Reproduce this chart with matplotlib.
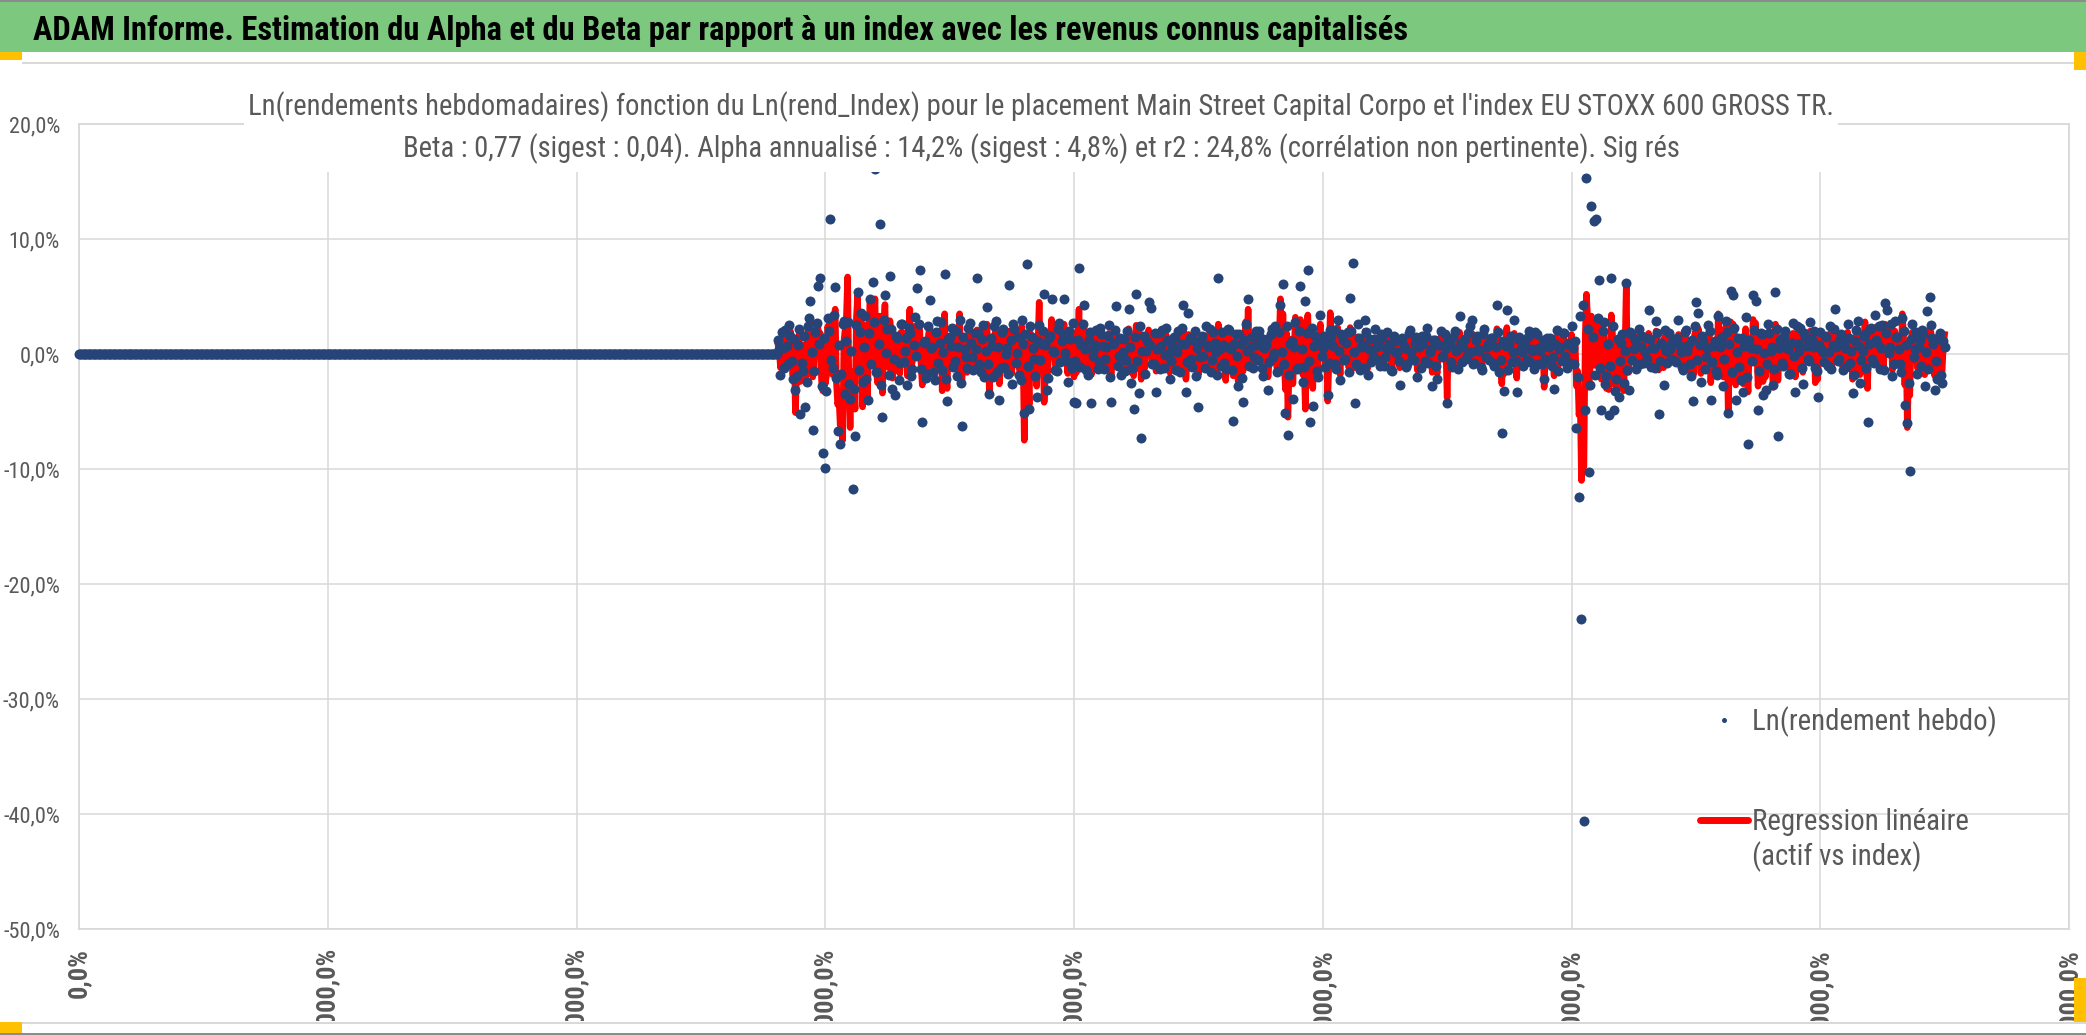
import numpy as np
import matplotlib
matplotlib.use("Agg")
import matplotlib.pyplot as plt
from matplotlib import font_manager
from matplotlib.patches import Rectangle
from matplotlib.lines import Line2D
from matplotlib.ticker import FuncFormatter

W, H = 2086, 1035


# narrow font close to Calibri, whatever is installed
def pick_font():
    fl = font_manager.fontManager.ttflist
    names = {f.name for f in fl}
    for n in ["Liberation Sans Narrow", "Noto Sans Condensed", "Roboto Condensed",
              "Open Sans Condensed", "DejaVu Sans Condensed"]:
        if n in names:
            return n, "normal"
    for st in ["condensed", "semi-condensed"]:
        for n in ["Noto Sans", "Open Sans", "Roboto", "DejaVu Sans", "Liberation Sans"]:
            if any(f.name == n and f.stretch == st for f in fl):
                return n, st
    return "DejaVu Sans", "normal"


FONT, STRETCH = pick_font()
plt.rcParams["font.family"] = [FONT, "DejaVu Sans"]
plt.rcParams["font.stretch"] = STRETCH

# ---- data (weekly log returns, in %) ----
zero_weeks = 562          # weeks 0..561, before the listing: value 0
first_week = 562
step_weeks = 1

rend_hebdo = [
    1.2, 0.4, -1.8, 1.9, 0.5, -1.2, 2.1, 0.7, -0.9, 2.5, 1.6, -0.6, -2.2, 1.3, -3.1, -1.9, 0.8, 2.2, -5.2, -0.8,
    -1.5, 1.6, -4.6, -2.4, 2.4, 3.1, 4.6, 0.2, -6.6, -1.5, 1.9, 2.7, 5.9, 0.9, 6.6, -2.8, -8.6, 1.4, -9.9, -3.2,
    3.1, 2.0, 11.7, -0.5, -1.2, 3.4, 5.8, -2.1, -6.7, 0.8, -7.8, -1.7, 2.6, 2.9, -3.5, 1.1, 2.8, -2.6, -3.9, 0.3,
    -11.7, -3.0, -7.1, 2.5, 5.4, -1.4, 1.9, 3.6, -2.4, 0.6, 3.3, -2.2, -4.0, 1.8, 4.8, -0.9, 6.3, 2.8, 16.1, -1.6,
    -1.6, 0.9, 11.3, -2.7, -5.5, 3.0, 5.1, 0.1, 2.2, -1.8, 6.8, 2.2, -3.0, -0.4, -3.6, 1.6, 1.4, -2.3, -0.8, 2.6,
    2.6, -0.7, 0.3, 1.4, -2.7, 2.3, 1.8, -1.9, -1.3, 0.8, 3.2, -0.2, 5.7, 2.6, 7.3, -1.3, -5.9, 1.0, 1.1, -2.1,
    -1.7, 2.4, 4.7, 0.5, 0.6, -1.6, -2.3, 1.9, 2.9, -0.8, 1.0, 2.8, -1.4, 0.2, 7.0, -2.2, -4.1, 1.3, 1.5, 0.7,
    2.3, -1.1, -0.6, 2.0, -1.9, 0.6, 3.0, -2.5, -6.3, 1.5, 0.4, -0.3, -1.2, 2.3, 2.7, 1.0, -0.3, -1.4, 1.8, 0.4,
    6.6, 1.8, -0.9, -1.6, 1.3, 2.5, -2.0, 0.3, 4.1, -0.9, -3.5, 1.4, 0.7, -2.0, 2.4, 2.9, -1.6, 0.6, -4.0, -1.2,
    1.9, 2.2, -1.1, 0.0, 0.5, -1.7, 6.0, 1.2, -2.6, 2.6, 2.2, -0.8, 0.1, 1.5, -1.8, -2.3, 3.0, 0.9, -5.1, 1.7,
    7.8, -1.0, -4.8, 2.4, 1.5, 0.5, -0.4, -1.9, -3.7, 1.1, 2.5, -0.5, 0.9, 2.0, 5.2, 0.8, -3.1, -2.1, 1.4, 1.6,
    4.8, 0.3, 0.2, -1.4, -1.5, 2.2, 2.7, -0.7, 1.1, 1.7, 4.8, 0.1, -0.6, -2.4, 2.0, 1.3, -1.2, 2.7, -4.2, -0.6,
    -4.3, 1.2, 7.5, -1.1, 0.8, 2.6, 4.3, 0.4, -1.4, -1.8, 1.2, 1.9, -4.3, -0.2, 0.4, 0.8, 2.1, -1.3, -0.7, 2.3,
    1.7, 0.7, -1.3, -0.4, 0.6, 1.6, 2.5, -2.0, -4.2, 0.9, 1.0, 2.1, 4.2, -1.0, -0.2, 1.4, -1.8, 0.2, 1.3, -1.5,
    -0.5, 2.0, 3.9, 0.6, -2.5, -1.2, -4.8, 1.5, 5.2, -0.6, -3.4, 2.4, -7.3, 0.3, 1.6, -1.7, 0.3, 1.1, 4.5, 0.8,
    4.0, -0.9, -0.9, 1.8, -3.3, 0.4, 1.8, -1.3, 0.7, 2.1, -1.2, -0.1, 2.3, 1.2, 0.1, -2.2, -0.6, 0.7, 1.5, 1.5,
    -1.4, 0.2, 2.0, -1.6, 0.9, 2.3, 4.3, 0.9, -3.3, -0.7, 3.6, 1.4, -0.4, -1.1, 1.2, 2.0, -1.9, 0.5, -4.6, -0.3,
    1.1, 1.6, -0.2, -1.2, 2.4, 0.8, 0.6, 2.2, -1.6, -0.5, 1.9, 1.0, 0.2, -1.8, 6.6, 0.4, -1.0, 1.9, 0.8, -0.8,
    -1.3, 0.6, 2.2, 2.1, 0.4, -1.4, -5.8, 0.9, 1.7, -0.2, -2.8, 1.7, 0.9, -2.1, -4.2, 1.2, 2.6, 0.3, 4.8, -1.0,
    0.6, 1.5, -1.2, -0.3, 2.0, 0.8, -0.5, 2.0, 1.4, -1.2, -1.9, 0.5, 0.8, 1.3, -3.1, -0.7, 1.7, 2.2, -0.3, 0.1,
    2.4, -1.6, -1.5, 1.9, 4.3, 0.2, 6.1, -0.9, -5.1, 2.4, -7.0, -1.8, 0.9, 1.1, -3.9, 0.6, 2.8, -1.3, -1.2, 2.0,
    5.9, 0.4, -2.4, -1.1, 4.6, 1.8, 7.3, -0.6, -5.9, 2.3, -4.5, 0.7, 1.6, -1.5, -2.0, 1.2, 3.4, -0.2, 0.5, 1.6,
    -1.1, 0.9, -3.6, -0.8, 2.1, 1.5, 0.7, 2.1, -0.9, -1.3, 3.0, 0.3, -2.3, 1.7, 1.2, -0.5, -0.4, 1.0, 1.9, -1.6,
    4.9, 2.0, 7.9, 0.2, -4.3, -0.9, 2.6, 1.4, -1.4, 0.6, 0.8, -1.2, 3.0, 1.9, -1.8, 0.4, 1.3, -0.7, -0.2, 1.3,
    2.2, -0.4, 0.6, 1.1, -1.0, 1.7, 1.5, -1.0, -0.3, 0.5, 1.9, 0.9, 0.4, -1.4, -1.5, 1.6, 1.1, 0.1, 0.2, -0.6,
    -2.7, 1.3, 1.4, 0.7, 0.5, -1.1, -0.9, 1.8, 2.1, 0.2, -0.4, -0.5, 1.0, 1.5, -2.0, 0.6, 0.7, -1.2, 1.6, 0.9,
    -0.6, 1.6, 2.3, -0.8, 0.2, 0.4, -2.8, 1.2, 1.2, -1.0, -2.2, 0.8, 0.8, 2.0, -0.3, -0.2, 1.7, 0.5, -4.3, 1.1,
    0.9, -0.7, -1.1, 1.5, 2.0, 0.3, 0.4, -1.3, 3.3, 1.0, -0.7, 0.6, 1.3, -0.4, -0.2, 1.8, 2.4, 0.2, 3.0, -0.9,
    -0.8, 1.2, 1.6, 0.4, 0.3, -1.1, -1.4, 1.7, 2.2, -0.3, 0.6, 0.9, -0.5, 1.4, 1.4, -0.8, -1.0, 0.6, 4.3, 1.9,
    -1.6, -0.5, -6.9, 1.1, -3.2, 0.7, 3.8, -1.4, 0.9, 1.6, -0.7, 0.2, 3.0, -0.6, -3.3, 1.3, 1.5, 0.5, 0.2, -1.0,
    1.2, 0.8, -0.5, 1.5, 2.0, -0.7, 0.3, 0.4, -1.3, 1.9, 1.7, -0.9, 0.5, 0.3, -0.9, 1.2, -2.2, -0.4, 1.4, 0.7,
    0.6, 1.4, -1.0, -0.3, -3.0, 0.9, 2.1, -1.5, 0.4, 0.6, -0.6, 1.8, 1.8, -0.2, -1.2, 1.0, 0.8, -0.8, 2.4, 0.5,
    -0.9, 1.1, -6.4, -2.0, -12.4, 3.3, -23.0, 4.3, -40.6, -4.9, 15.3, 2.2, -10.3, -2.7, 12.9, 1.5, 11.6, -1.8, 11.7, 3.1,
    6.4, -1.2, -4.9, 2.0, 2.8, -2.6, -1.9, 0.9, -5.3, -1.0, 6.6, 2.4, -4.9, -3.2, -2.2, 1.3, -3.7, -0.6, 1.0, 1.7,
    -2.5, 0.3, 6.2, -1.4, -3.1, 1.9, 1.7, -0.5, 0.4, 1.2, -1.3, 0.8, 2.2, -0.9, 0.6, 1.6, -0.8, 0.2, 1.4, -0.4,
    3.8, 1.3, -1.1, 0.5, 0.5, -1.2, 2.9, 1.8, -5.2, -0.6, 1.0, 0.9, -2.7, 2.1, 0.3, -0.8, 1.8, 0.4, -0.4, 1.0,
    1.3, -0.6, -0.7, 1.4, 3.0, 0.7, 0.2, -1.1, -1.4, 1.9, 2.1, 0.3, 0.8, -0.9, -1.9, 1.2, -4.1, 2.4, 4.5, -0.5,
    3.6, 0.8, -2.4, 1.6, 1.1, -1.3, -0.3, 0.5, 2.5, 2.0, -4.0, -0.7, 0.7, 1.1, -1.5, -1.8, 3.3, 0.6, 1.0, 1.5,
    -2.8, -0.4, 2.9, 1.9, -5.1, 0.9, 5.5, -1.6, 5.1, 2.3, -4.0, 0.2, 1.4, -1.1, -2.3, 1.4, -3.3, 0.7, 3.2, -2.0,
    -7.8, 1.2, 0.5, -0.6, 5.1, 2.1, 4.6, 0.4, -4.9, -1.5, 1.8, 1.7, -3.6, 0.1, -3.1, -0.9, 2.6, 1.8, 0.3, 0.6,
    -2.7, -1.3, 5.4, 2.2, -7.1, 0.5, 1.2, -0.8, -1.0, 1.6, 2.0, 0.9, 0.4, -1.7, -1.7, 1.0, 2.7, -0.2, -3.3, 2.4,
    0.9, 0.3, 2.3, -1.2, -2.6, 1.8, 1.5, 0.7, -0.4, -0.6, 2.8, 1.3, 0.6, 2.0, -1.2, -1.5, -3.7, 0.8, 1.9, 0.4,
    0.2, -0.7, 1.6, 1.5, -1.0, 0.2, 2.4, -1.3, 0.8, 2.2, 3.9, 0.6, -0.6, -0.4, 1.3, 1.7, -1.4, 0.9, 0.5, -1.1,
    2.6, 1.4, -0.8, 0.3, -3.4, -1.8, 1.1, 2.1, 2.9, 0.7, -2.5, -0.5, 0.3, 1.6, 1.7, -1.2, -5.9, 0.9, 2.2, 2.3,
    -0.4, -0.8, 3.4, 1.2, 1.0, 2.4, -1.3, 0.5, 2.5, -1.4, 4.4, 1.8, 3.8, 0.1, 0.6, 2.6, -1.9, -0.9, 2.9, 1.5,
    1.5, 0.4, -0.9, -1.6, 3.1, 2.0, -4.4, 0.8, -6.0, -2.5, -10.2, 1.3, 2.6, -0.3, 0.4, 1.9, -1.7, 0.6, 1.2, -1.0,
    2.1, 1.7, -2.8, 0.2, 3.7, -1.3, 5.0, 2.5, 1.4, 0.9, -3.1, -0.6, -2.2, 1.4, 1.8, -1.8, -2.5, 1.1, 0.6,
]

regression = [
    0.8, 0.3, -1.2, 1.1, 1.5, -0.7, 0.3, 0.9, -0.8, 1.4, 2.0, -0.4, -1.9, 0.6, -5.1, -1.8, 1.1, 1.7, -2.4, -0.9,
    -1.0, 0.8, -2.3, -1.6, 2.2, 2.4, 2.8, 0.5, -2.0, -1.1, 1.4, 2.0, 2.5, 1.2, 1.8, -2.3, -3.2, 1.0, -2.6, -1.9,
    2.4, 1.5, 3.2, -0.6, -1.8, 2.7, 3.9, -2.5, -4.4, -3.8, -6.2, -4.6, -7.5, 1.1, 2.2, 3.3, 6.7, -2.2, -6.4, -1.5,
    -3.5, -2.6, -4.8, 3.1, 5.1, -1.2, 0.9, 2.8, -4.6, -1.4, 2.5, -1.9, -3.8, 1.6, 4.5, -0.8, 3.6, 2.6, 4.8, -1.3,
    -2.5, 0.7, 3.3, -1.9, -3.4, 2.5, 4.3, 0.4, 1.2, -1.2, 2.9, 1.8, -2.1, -0.6, -1.4, 1.0, 0.6, -1.5, -1.7, 1.9,
    1.9, -0.3, -0.4, 1.2, -1.9, 1.6, 3.9, -1.1, -0.7, 0.5, 2.4, 0.1, 1.8, 1.9, 2.1, -0.9, -2.7, 0.6, 0.5, -1.4,
    -1.2, 1.7, 2.3, 0.2, 0.4, -1.0, -1.8, 1.3, 1.7, -0.6, 0.8, 2.1, -3.2, -0.1, 3.5, -1.7, -3.0, 0.8, 1.2, 0.5,
    1.6, -0.8, -0.9, 1.5, -1.3, 0.3, 3.5, -1.9, -2.2, 1.1, 0.2, -0.4, -1.6, 1.6, 2.2, 0.6, -0.5, -1.0, 1.3, 0.2,
    2.1, 1.2, -0.7, -1.3, 0.9, 1.9, -1.5, 0.1, 2.6, -0.7, -3.3, 1.0, 0.5, -1.4, 1.6, 2.0, -1.1, 0.4, -2.6, -0.9,
    1.4, 1.6, -0.6, -0.2, 0.3, -1.3, 2.0, 0.8, -1.7, 1.9, 1.5, -0.6, 0.2, 1.1, -1.3, -1.8, 2.4, 0.5, -7.5, -2.1,
    1.0, -0.7, -4.4, 1.8, 1.2, 0.3, 0.3, -1.4, -2.8, 0.8, 4.5, -0.3, 1.4, 1.5, -4.2, -1.6, -2.1, -1.5, 1.0, 1.2,
    3.0, 0.2, 0.6, -1.0, -1.1, 1.6, 1.9, -0.5, 0.7, 1.3, 2.6, 0.0, -0.4, -1.7, 1.5, 0.9, -0.8, 1.9, -2.0, -0.4,
    -1.6, 0.9, 3.9, -0.8, 0.5, 1.9, 2.4, 0.2, -1.0, -1.3, 0.9, 1.4, -1.8, -0.1, 0.3, 0.5, 1.5, -0.9, -0.5, 1.7,
    1.2, 0.5, -1.0, -0.3, 0.4, 1.2, 1.8, -1.5, -2.1, 0.6, 0.6, 1.6, 2.0, -0.7, -0.3, 1.0, -1.4, 0.1, 0.8, -1.1,
    -0.4, 1.5, 2.2, 0.4, -1.6, -0.9, -1.9, 1.1, 2.5, -0.4, -1.3, 1.8, -2.2, 0.2, 1.1, -1.2, 0.2, 0.8, 2.1, 0.6,
    1.8, -0.7, -0.6, 1.3, -1.5, 0.3, 1.2, -1.0, 0.6, 1.5, -0.9, 0.0, 1.7, 0.9, 0.3, -1.6, -0.5, 0.5, 1.0, 1.1,
    -1.0, 0.1, 1.5, -1.2, 0.6, 1.7, 2.3, 0.7, -2.2, -0.5, 1.7, 1.0, -0.3, -0.8, 0.9, 1.5, -1.3, 0.4, -1.8, -0.2,
    0.7, 1.2, -0.2, -0.9, 1.6, 0.6, 0.4, 1.6, -1.2, -0.4, 1.3, 0.7, 0.1, -1.3, 2.6, 0.3, -0.7, 1.4, 0.5, -0.6,
    -2.3, 0.4, 1.6, 1.5, 0.2, -1.0, -1.9, 0.7, 1.2, -0.1, -2.4, 1.2, 0.7, -1.5, -1.5, 0.9, 2.8, 0.2, 3.9, -0.7,
    0.9, 1.1, -0.8, -0.2, 1.4, 0.6, -0.4, 1.5, 1.0, -0.9, -1.4, 0.4, 0.6, 1.0, -2.0, -0.5, 1.2, 1.6, -0.2, 0.1,
    1.8, -1.2, -1.2, 1.4, 4.8, 0.1, 3.5, -0.7, -3.1, 1.8, -5.5, -1.3, 1.3, 0.8, -2.6, 0.4, 3.2, -1.0, -1.0, 1.5,
    3.0, 0.3, -1.8, -0.8, -4.8, 1.3, 3.4, -0.4, -2.4, 1.7, -3.0, 0.5, 1.2, -1.1, -1.5, 0.9, 2.6, -0.1, 0.4, 1.2,
    -0.8, 0.7, -4.1, -0.6, 3.6, 1.1, 0.5, 1.6, -0.7, -1.0, 2.3, 0.2, -1.8, 1.3, 0.9, -0.4, -0.3, 0.7, 1.4, -1.2,
    2.3, 1.5, 1.8, 0.1, -1.2, -0.7, 1.5, 1.0, -1.0, 0.4, 0.6, -0.9, 2.0, 1.4, -1.3, 0.3, 0.9, -0.5, -0.2, 1.0,
    1.4, -0.3, 0.5, 0.8, -0.8, 1.2, 1.0, -0.7, -0.2, 0.4, 1.3, 0.7, 0.3, -1.0, -1.1, 1.2, 0.8, 0.1, 0.2, -0.4,
    -1.2, 1.0, 1.0, 0.5, 0.4, -0.8, -0.7, 1.3, 1.5, 0.1, -0.3, -0.4, 0.7, 1.1, -1.4, 0.4, 0.5, -0.9, 1.1, 0.7,
    -0.5, 1.2, 1.6, -0.6, 0.1, 0.3, -1.6, 0.9, 0.9, -0.7, -1.7, 0.6, 0.6, 1.5, -0.2, -0.1, 1.1, 0.4, -3.8, 0.8,
    0.6, -0.5, -0.8, 1.1, 1.5, 0.2, 0.3, -1.0, 1.9, 0.7, -0.5, 0.4, 0.9, -0.3, -0.1, 1.3, 1.7, 0.1, 1.8, -0.7,
    -0.6, 0.9, 1.2, 0.3, 0.2, -0.8, -1.0, 1.3, 1.6, -0.2, 0.4, 0.7, -0.4, 1.0, 1.0, -0.6, -0.7, 0.4, 2.2, 1.4,
    -1.1, -0.4, -2.6, 0.8, -1.7, 0.5, 2.3, -1.0, 0.6, 1.2, -0.5, 0.1, 1.8, -0.4, -2.1, 1.0, 1.1, 0.4, 0.2, -0.7,
    0.9, 0.6, -0.4, 1.1, 1.4, -0.5, 0.3, 0.3, -1.0, 1.4, 1.2, -0.7, 0.4, 0.2, -0.7, 0.9, -2.9, -0.3, 1.0, 0.5,
    0.4, 1.0, -0.8, -0.2, -1.9, 0.7, 1.5, -1.1, 0.3, 0.4, -0.5, 1.3, 1.3, -0.1, -0.9, 0.7, 0.6, -0.6, 1.7, 0.4,
    0.5, 0.8, -2.8, -1.5, -5.3, -4.2, -11.0, -9.5, -9.8, 1.4, 5.2, 3.1, -2.9, -1.2, 3.3, 2.4, 1.8, -1.0, 2.7, 2.1,
    2.5, -0.9, -2.2, 1.4, 1.9, -1.8, -3.0, 0.6, -3.1, -0.7, 3.4, 1.7, -2.6, -2.2, -1.4, 0.9, -3.0, -0.4, 0.8, 1.2,
    -3.2, 0.2, 5.9, -1.0, -1.6, 1.4, 1.2, -0.4, 0.3, 0.9, -1.0, 0.6, 1.6, -0.7, 0.4, 1.2, -0.6, 0.1, 1.0, -0.3,
    1.8, 1.0, -0.8, 0.4, 0.4, -0.9, 2.0, 1.3, -1.4, -0.4, 0.8, 0.7, -1.2, 1.5, 0.2, -0.6, 1.3, 0.3, -0.3, 0.7,
    0.9, -0.4, -0.5, 1.0, 1.7, 0.5, 0.1, -0.8, -1.0, 1.4, 1.4, 0.2, 0.6, -0.7, -1.6, 0.9, -1.8, 1.7, 2.0, -0.4,
    2.2, 0.6, -1.7, 1.2, 0.8, -1.0, -0.2, 0.4, 1.8, 1.5, -2.5, -0.5, 0.5, 0.8, -1.1, -1.3, 3.5, 0.4, 0.8, 1.1,
    -2.0, -0.3, 2.4, 1.4, -5.1, 0.7, 2.8, -1.2, 2.6, 1.7, -2.7, 0.1, 0.9, -0.8, -1.8, 1.0, -2.6, 0.5, 2.2, -1.5,
    -3.3, 0.9, 0.4, -0.4, 3.0, 1.6, 2.7, 0.3, -2.8, -1.1, 1.5, 1.3, -2.4, 0.1, -2.0, -0.7, 1.9, 1.3, 0.2, 0.4,
    -2.9, -1.0, 2.6, 1.6, -2.3, 0.4, 0.9, -0.6, -0.8, 1.2, 1.5, 0.7, 0.3, -1.2, -1.3, 0.8, 1.8, -0.1, -2.0, 1.8,
    0.7, 0.2, 1.7, -0.9, -1.6, 1.3, 1.1, 0.5, -0.3, -0.4, 2.0, 1.0, 0.4, 1.5, -2.5, -1.1, -2.2, 0.6, 1.4, 0.3,
    0.2, -0.5, 1.2, 1.1, -0.8, 0.1, 1.8, -1.0, 0.6, 1.6, 2.0, 0.4, -0.5, -0.3, 1.0, 1.3, -1.1, 0.7, 0.4, -0.8,
    1.9, 1.0, -0.6, 0.2, -2.2, -1.3, 0.9, 1.6, 2.1, 0.5, -1.8, -0.4, 0.2, 1.2, 2.8, -0.9, -3.0, 0.7, 1.6, 1.7,
    -0.3, -0.6, 2.3, 0.9, 0.8, 1.8, -0.9, 0.4, 1.8, -1.0, 2.6, 1.3, 2.2, 0.1, 0.5, 1.9, -1.4, -0.7, 2.0, 1.1,
    1.1, 0.3, -0.6, -1.2, 3.5, 1.5, -2.7, 0.6, -6.4, -1.9, -3.6, 1.0, 1.9, -0.2, 0.3, 1.4, -1.2, 0.4, 0.9, -0.8,
    1.5, 1.3, -1.8, 0.1, 2.0, -1.0, 2.2, 1.9, 0.8, 0.7, -1.9, -0.5, -1.4, 1.0, 1.2, -1.3, -1.5, 0.8, 1.7,
]

x_ticks = [0, 200, 400, 600, 800, 1000, 1200, 1400, 1600]
y_ticks = [-50, -40, -30, -20, -10, 0, 10, 20]

main_title = ("ADAM Informe. Estimation du Alpha et du Beta par rapport à un index "
              "avec les revenus connus capitalisés")
chart_title_1 = ("Ln(rendements hebdomadaires) fonction du Ln(rend_Index) pour le placement "
                 "Main Street Capital Corpo et l'index EU STOXX 600 GROSS TR.")
chart_title_2 = ("Beta : 0,77 (sigest : 0,04). Alpha annualisé : 14,2% (sigest : 4,8%) "
                 "et r2 : 24,8% (corrélation non pertinente). Sig rés")
label_rend = "Ln(rendement hebdo)"
label_reg = "Regression linéaire"
label_reg_2 = "(actif vs index)"

BLUE = "#264478"
RED = "#FF0000"
GREEN = "#7DC87F"
GRAY_TXT = "#595959"
GRID = "#D9D9D9"
ORANGE = "#FFC000"

weeks_zero = np.arange(zero_weeks) * step_weeks
weeks = first_week + step_weeks * np.arange(len(rend_hebdo))


def fx(x):
    return x / W


def fy(y):
    return 1 - y / H


fig = plt.figure(figsize=(W / 100, H / 100), dpi=100)
renderer = fig.canvas.get_renderer()


def fit(txt, target_px):
    w = txt.get_window_extent(renderer=renderer).width
    txt.set_fontsize(txt.get_fontsize() * target_px / w)
    return txt.get_fontsize()


def size_for(s, target_px, **kw):
    t = fig.text(0, 0, s, fontsize=20, **kw)
    size = fit(t, target_px)
    t.remove()
    return size


# header band and frame decorations
fig.add_artist(Rectangle((0, fy(52)), 1, 52 / H, transform=fig.transFigure,
                         facecolor=GREEN, edgecolor="none", zorder=1))
fig.add_artist(Rectangle((0, fy(2)), 1, 2 / H, transform=fig.transFigure,
                         facecolor="#8C8C8C", edgecolor="none", zorder=1))
fig.add_artist(Rectangle((fx(22), fy(64)), 1, 2 / H, transform=fig.transFigure,
                         facecolor=GRID, edgecolor="none", zorder=1))
# white box behind the chart title (hides top of grid)
fig.add_artist(Rectangle((fx(244), fy(172)), (1838 - 244) / W, (172 - 66) / H,
                         transform=fig.transFigure, facecolor="white",
                         edgecolor="none", zorder=2))
# bottom strip that cuts the long x labels
fig.add_artist(Rectangle((0, 0), 1, (H - 1021) / H, transform=fig.transFigure,
                         facecolor="white", edgecolor="none", zorder=5))
fig.add_artist(Rectangle((fx(22), fy(1024)), 1, 2 / H, transform=fig.transFigure,
                         facecolor=GRID, edgecolor="none", zorder=6))
fig.add_artist(Rectangle((0, 0), 1, 2 / H, transform=fig.transFigure,
                         facecolor="#8C8C8C", edgecolor="none", zorder=6))
for (x0, y0, x1, y1) in [(0, 52, 22, 60), (2074, 52, 2086, 70),
                         (2074, 978, 2086, 1022), (0, 1022, 22, 1033)]:
    fig.add_artist(Rectangle((fx(x0), fy(y1)), (x1 - x0) / W, (y1 - y0) / H,
                             transform=fig.transFigure, facecolor=ORANGE,
                             edgecolor="none", zorder=7))

t = fig.text(fx(33), fy(40), main_title, fontweight="bold", color="black",
             ha="left", va="baseline", fontsize=20, zorder=3)
fit(t, 1375)

t1 = fig.text(fx(1041), fy(115), chart_title_1, color=GRAY_TXT, ha="center",
              va="baseline", fontsize=20, zorder=3)
fs_title = fit(t1, 1579)
t2 = fig.text(fx(1041), fy(157), chart_title_2, color=GRAY_TXT, ha="center",
              va="baseline", fontsize=fs_title, zorder=3)

# plot area
ax = fig.add_axes([fx(79), fy(929), (2069 - 79) / W, (929 - 124) / H])
ax.set_xlim(0, 1600)
ax.set_ylim(-50, 20)

ax.plot(weeks, regression, color=RED, lw=4.7, zorder=2)
ax.plot(np.concatenate([weeks_zero, weeks]),
        [0.0] * zero_weeks + rend_hebdo,
        ls="none", marker="o", ms=7.2, mew=0, color=BLUE, zorder=3, clip_on=False)

ax.set_xticks(x_ticks)
ax.set_yticks(y_ticks)
ax.xaxis.set_major_formatter(FuncFormatter(lambda v, p: f"{v * 100:.1f}%".replace(".", ",")))
ax.yaxis.set_major_formatter(FuncFormatter(lambda v, p: f"{v:.1f}%".replace(".", ",")))
ax.grid(True, color=GRID, lw=1.1)
ax.set_axisbelow(True)
for sp in ax.spines.values():
    sp.set_color(GRID)
    sp.set_linewidth(1.3)

fs_y = size_for("-50,0%", 57)
fs_x = size_for("0,0%", 50, fontweight="bold")
ax.tick_params(axis="y", length=0, pad=13.7, labelsize=fs_y, labelcolor=GRAY_TXT)
ax.tick_params(axis="x", length=0, pad=13.7, labelsize=fs_x, labelcolor=GRAY_TXT,
               labelrotation=90)
for lab in ax.get_xticklabels():
    lab.set_fontweight("bold")

# legend: one small legend per entry so the red key sits on the first text line
fs_leg = size_for(label_rend, 244)
fs_px = fs_leg * 100 / 72
h_rend = Line2D([], [], ls="none", marker="o", ms=3.6, mew=0, color=BLUE)
h_reg = Line2D([], [], color=RED, lw=5, solid_capstyle="round")
leg_opts = dict(loc="center left", bbox_transform=fig.transFigure, frameon=False,
                borderpad=0, borderaxespad=0, fontsize=fs_leg, labelcolor=GRAY_TXT,
                handlelength=48 / fs_px, handletextpad=4 / fs_px)
leg1 = ax.legend([h_rend], [label_rend], bbox_to_anchor=(fx(1700), fy(722)), **leg_opts)
ax.add_artist(leg1)
ax.legend([h_reg], [label_reg], bbox_to_anchor=(fx(1700), fy(822)), **leg_opts)
fig.text(fx(1752), fy(865), label_reg_2, color=GRAY_TXT, fontsize=fs_leg,
         ha="left", va="baseline", zorder=3)

fig.savefig("out.png", dpi=100, facecolor="white")
